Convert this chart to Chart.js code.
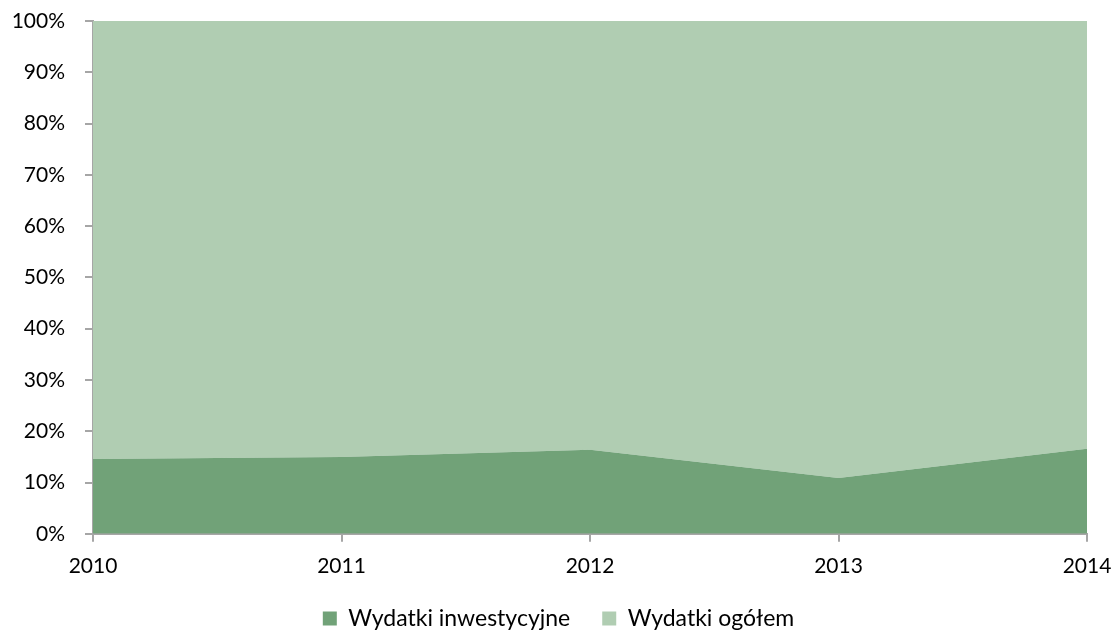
<!DOCTYPE html>
<html>
<head>
<meta charset="utf-8">
<script src="https://cdn.jsdelivr.net/npm/chart.js@4"></script>
<style>
  html, body { margin: 0; padding: 0; background: #fff; }
  #wrap { width: 1119px; height: 639px; }
</style>
</head>
<body>
<div id="wrap"><canvas id="myChart" width="1119" height="639"></canvas></div>
<script>
// lata
const years = ['2010', '2011', '2012', '2013', '2014'];
// udział w % (wykres 100% skumulowany)
const investSpending = [14.6, 15.0, 16.4, 10.9, 16.6];
const totalSpending = [85.4, 85.0, 83.6, 89.1, 83.4];
const yTicks = [0, 10, 20, 30, 40, 50, 60, 70, 80, 90, 100];

const axisGray = '#a6a6a6';
const fontFamily = 'Lato, "Open Sans", sans-serif';

// legenda: stala wysokosc i przesuniecie jak w oryginale
const legendTweak = {
    id: 'legendTweak',
    afterInit(chart) {
        const legend = chart.legend;
        const origFit = legend.fit;
        legend.fit = function () {
            origFit.call(this);
            this.height = 48;
        };
    },
    afterLayout(chart) {
        const legend = chart.legend;
        legend.left += 15;
        legend.right += 15;
        legend.top -= 16;
    }
};

const ctx = document.getElementById('myChart').getContext('2d');
const myChart = new Chart(ctx, {
    type: 'line',
    data: {
        labels: years,
        datasets: [{
            label: 'Wydatki inwestycyjne',
            data: investSpending,
            backgroundColor: '#71a278',
            borderWidth: 0,
            pointRadius: 0,
            fill: 'origin'
        }, {
            label: 'Wydatki ogółem',
            data: totalSpending,
            backgroundColor: '#b0cdb2',
            borderWidth: 0,
            pointRadius: 0,
            fill: '-1'
        }]
    },
    plugins: [legendTweak],
    options: {
        responsive: false,
        animation: false,
        layout: { padding: { top: 21, right: 32, bottom: 0, left: 0 } },
        plugins: {
            tooltip: { enabled: false },
            legend: {
                position: 'bottom',
                labels: {
                    color: '#000',
                    font: { family: fontFamily, size: 23 },
                    boxWidth: 14,
                    boxHeight: 14,
                    padding: 32
                }
            }
        },
        scales: {
            x: {
                offset: false,
                afterFit: function (scale) { scale.paddingLeft = 0; scale.paddingRight = 0; },
                grid: { drawOnChartArea: false, drawTicks: true, tickLength: 8, color: axisGray, lineWidth: 2 },
                border: { color: axisGray, width: 2 },
                ticks: { color: '#000', font: { family: fontFamily, size: 21 }, padding: 12, maxRotation: 0 }
            },
            y: {
                stacked: true,
                min: 0,
                max: 100,
                afterFit: function (scale) {
                    scale.width = 93;
                    scale.paddingTop = 0;
                    scale.paddingBottom = 0;
                },
                afterBuildTicks: function (scale) { scale.ticks = yTicks.map(v => ({ value: v })); },
                grid: { drawOnChartArea: false, drawTicks: true, tickLength: 8, color: axisGray, lineWidth: 2 },
                border: { color: axisGray, width: 2 },
                ticks: {
                    color: '#000',
                    font: { family: fontFamily, size: 21 },
                    padding: 20,
                    callback: v => v + '%'
                }
            }
        }
    }
});
</script>
</body>
</html>
